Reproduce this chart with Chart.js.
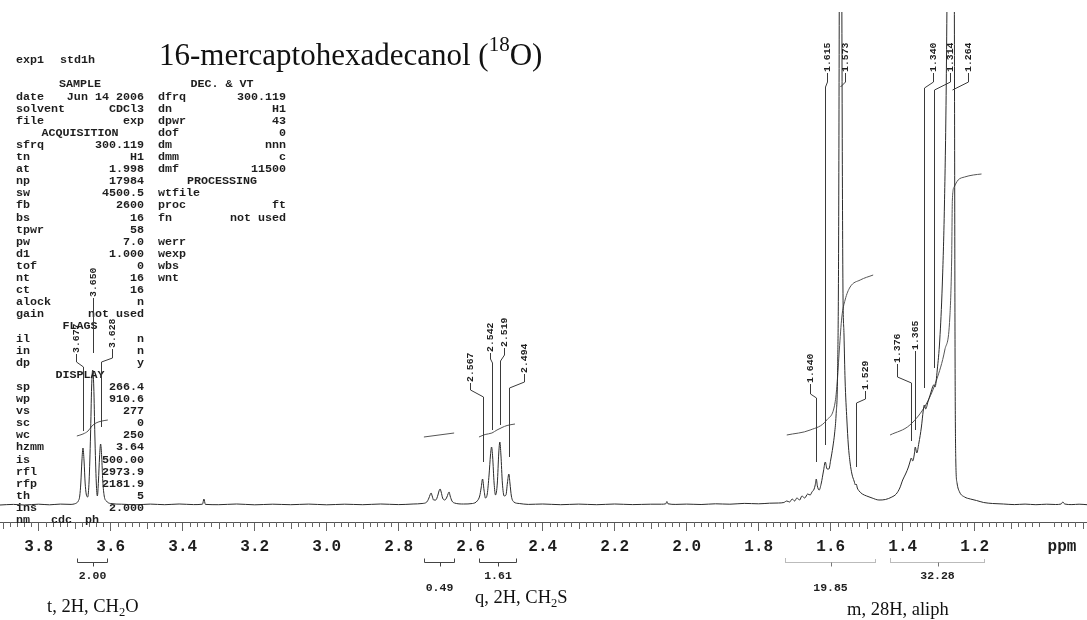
<!DOCTYPE html>
<html>
<head>
<meta charset="utf-8">
<script src="https://cdn.jsdelivr.net/npm/chart.js@4.4.1/dist/chart.umd.min.js"></script>
<style>
  html, body { margin: 0; padding: 0; background: #fff; }
  #wrap { position: relative; width: 1087px; height: 620px; }
</style>
</head>
<body>
<div id="wrap"><canvas id="nmr"></canvas></div>
<script>
// ---- chemical shift axis ----
const shiftMax = 3.9075;   // left edge (ppm)
const shiftMin = 0.888;    // right edge (ppm)
const majorTicks = [3.8, 3.6, 3.4, 3.2, 3.0, 2.8, 2.6, 2.4, 2.2, 2.0, 1.8, 1.6, 1.4, 1.2];
const tickLabels = ['3.8', '3.6', '3.4', '3.2', '3.0', '2.8', '2.6', '2.4', '2.2', '2.0', '1.8', '1.6', '1.4', '1.2'];

// ---- 1H spectrum trace (ppm, intensity) ----
const spectrumShift = [
  3.9075, 3.87, 3.84, 3.80, 3.77, 3.74, 3.71, 3.70, 3.695, 3.690, 3.686, 3.683, 3.680, 3.677, 3.674, 3.671,
  3.668, 3.664, 3.660, 3.656, 3.653, 3.650, 3.647, 3.644, 3.640, 3.637, 3.634, 3.631, 3.628, 3.625, 3.622,
  3.618, 3.612, 3.60, 3.57, 3.53, 3.49, 3.45, 3.41, 3.37, 3.345, 3.341, 3.337, 3.30, 3.25, 3.20, 3.15, 3.10,
  3.05, 3.00, 2.95, 2.90, 2.85, 2.80, 2.76, 2.735, 2.722, 2.716, 2.713, 2.710, 2.707, 2.703, 2.697, 2.691,
  2.688, 2.685, 2.682, 2.678, 2.672, 2.666, 2.663, 2.660, 2.657, 2.652, 2.645, 2.62, 2.595, 2.582, 2.575,
  2.571, 2.567, 2.563, 2.559, 2.554, 2.549, 2.545, 2.542, 2.539, 2.535, 2.531, 2.526, 2.522, 2.519, 2.516,
  2.512, 2.507, 2.502, 2.498, 2.494, 2.491, 2.487, 2.480, 2.465, 2.44, 2.40, 2.35, 2.30, 2.25, 2.20, 2.15,
  2.10, 2.07, 2.058, 2.055, 2.052, 2.03, 2.00, 1.96, 1.92, 1.88, 1.84, 1.80, 1.77, 1.745, 1.73, 1.722,
  1.714, 1.707, 1.700, 1.694, 1.686, 1.680, 1.672, 1.664, 1.657, 1.652, 1.646, 1.643, 1.640, 1.637, 1.632,
  1.626, 1.620, 1.615, 1.610, 1.605, 1.600, 1.594, 1.589, 1.585, 1.581, 1.578, 1.575, 1.573, 1.571, 1.568,
  1.566, 1.563, 1.560, 1.555, 1.551, 1.546, 1.541, 1.535, 1.531, 1.529, 1.526, 1.521, 1.512, 1.500, 1.485,
  1.466, 1.448, 1.430, 1.418, 1.408, 1.400, 1.392, 1.384, 1.379, 1.376, 1.372, 1.368, 1.365, 1.361, 1.355,
  1.348, 1.343, 1.340, 1.336, 1.330, 1.322, 1.317, 1.314, 1.310, 1.304, 1.297, 1.290, 1.284, 1.279, 1.274,
  1.269, 1.264, 1.260, 1.2565, 1.2545, 1.2525, 1.249, 1.242, 1.228, 1.212, 1.195, 1.175, 1.15, 1.12, 1.09,
  1.06, 1.03, 1.00, 0.975, 0.960, 0.955, 0.950, 0.93, 0.91, 0.888
];
const spectrumSignal = [
  0, 0.6, 0, 0.8, 0.2, 0.9, 0.6, 1.2, 2, 4, 9, 22, 44, 57, 44, 22,
  11, 8, 24, 70, 118, 135, 118, 70, 22, 9, 24, 48, 61, 48, 24,
  9, 4, 1.5, 0.8, 0.2, 0.9, 0.3, 1, 0.4, 0.8, 6, 0.6, 0.3, 1, 0.2, 0.8, 0.3,
  0.9, 0.2, 0.8, 0.3, 1, 0.4, 1, 1.5, 3, 7, 10, 12, 9, 5, 5, 10,
  14, 16, 13, 7, 5, 8, 11, 13, 9, 4, 2, 1, 1.5, 4, 9,
  17, 26, 15, 7, 11, 30, 50, 58, 48, 22, 10, 22, 52, 63, 50,
  22, 9, 10, 22, 31, 22, 9, 3, 1.5, 0.6, 1, 0.3, 0.9, 0.3, 1, 0.4,
  0.8, 0.8, 1.2, 3.5, 1.2, 0.6, 0.9, 0.5, 1.2, 0.8, 1.6, 1.2, 1.8, 2, 2.5, 4,
  3, 6, 4, 7, 5, 9, 7, 11, 10, 13, 16, 20, 26, 19, 15,
  22, 34, 43, 36, 36, 45, 58, 72, 90, 130, 260, 700, 1100, 800, 380,
  220, 170, 125, 85, 60, 42, 31, 24, 20, 21, 17, 14, 11, 9, 7,
  5, 5.5, 8, 11, 17, 25, 31, 38, 44, 47, 44, 50, 58, 52, 62,
  78, 94, 100, 96, 103, 112, 118, 120, 118, 135, 165, 220, 300, 420, 650,
  950, 1100, 900, 500, 150, 45, 22, 13, 8, 6, 4.5, 2.5, 1.5, 1, 0.4,
  0.9, 0.3, 0.8, 0.5, 1, 3, 1, 0.4, 0.8, 0.3
];

// ---- integral traces (ppm, integral height) ----
const integral1Shift = [3.694, 3.677, 3.663, 3.652, 3.641, 3.624, 3.608];
const integral1Value = [69, 71, 74, 79, 82, 84, 85];
const integral2Shift = [2.730, 2.688, 2.646];
const integral2Value = [68, 70, 72];
const integral3Shift = [2.577, 2.560, 2.541, 2.527, 2.513, 2.499, 2.477];
const integral3Value = [68, 70.5, 72, 75, 77.5, 79.5, 81];
const integral4Shift = [1.722, 1.657, 1.611, 1.588, 1.582, 1.576, 1.569, 1.560, 1.546, 1.518, 1.482];
const integral4Value = [70, 75, 85, 102, 122, 155, 188, 205, 218, 225, 230];
const integral5Shift = [1.435, 1.380, 1.333, 1.306, 1.283, 1.269, 1.264, 1.262, 1.257, 1.246, 1.228, 1.204, 1.181];
const integral5Value = [70, 80, 102, 125, 155, 188, 245, 305, 318, 325, 328, 330, 331];

// ---- integration regions and their values ----
const regionFrom = [3.694, 2.730, 2.577, 1.727, 1.435];
const regionTo = [3.611, 2.646, 2.474, 1.477, 1.173];
const regionValues = ['2.00', '0.49', '1.61', '19.85', '32.28'];

// ---- picked peaks ----
const peakShifts = [3.677, 3.650, 3.628, 2.567, 2.542, 2.519, 2.494, 1.640, 1.615, 1.573, 1.529, 1.376, 1.365, 1.340, 1.314, 1.264];

// ---- acquisition parameter listing ----
const paramLeft = [
  ['#', 'SAMPLE'], ['date', 'Jun 14 2006'], ['solvent', 'CDCl3'], ['file', 'exp'], ['#', 'ACQUISITION'],
  ['sfrq', '300.119'], ['tn', 'H1'], ['at', '1.998'], ['np', '17984'], ['sw', '4500.5'], ['fb', '2600'],
  ['bs', '16'], ['tpwr', '58'], ['pw', '7.0'], ['d1', '1.000'], ['tof', '0'], ['nt', '16'], ['ct', '16'],
  ['alock', 'n'], ['gain', 'not used'], ['#', 'FLAGS'], ['il', 'n'], ['in', 'n'], ['dp', 'y'],
  ['#', 'DISPLAY'], ['sp', '266.4'], ['wp', '910.6'], ['vs', '277'], ['sc', '0'], ['wc', '250'],
  ['hzmm', '3.64'], ['is', '500.00'], ['rfl', '2973.9'], ['rfp', '2181.9'], ['th', '5'], ['ins', '2.000']
];
const paramRight = [
  ['#', 'DEC. & VT'], ['dfrq', '300.119'], ['dn', 'H1'], ['dpwr', '43'], ['dof', '0'], ['dm', 'nnn'],
  ['dmm', 'c'], ['dmf', '11500'], ['#', 'PROCESSING'], ['wtfile', ''], ['proc', 'ft'], ['fn', 'not used'],
  ['', ''], ['werr', ''], ['wexp', ''], ['wbs', ''], ['wnt', '']
];

// ---- layout of the drawn annotations (pixels) ----
const peakLabelLayout = {
  textX:   [76, 93, 112, 470, 490, 504, 524, 810, 827, 845, 865, 897, 915, 933, 950, 968],
  textEnd: [353, 297, 348, 382, 352, 347, 373, 383, 72, 72, 390, 363, 350, 72, 72, 72],
  bendTop: [362, 300, 358, 390, 359, 355, 382, 394, 82, 82, 399, 377, 358, 82, 82, 82],
  bendLow: [367, 302, 362, 397, 363, 361, 388, 398, 87, 87, 403, 383, 362, 88, 90, 90]
};
const regionLabelY = [576, 588, 576, 588, 576];
const regionDotted = [false, false, false, true, true];

const MONO = '"Liberation Mono", "DejaVu Sans Mono", monospace';
const SERIF = '"Liberation Serif", "DejaVu Serif", serif';
const INK = '#1e1e1e';

function pairs(xs, ys) { return xs.map((x, i) => ({ x: x, y: ys[i] })); }
function signalAt(ppm) {
  let best = 0, d = Infinity;
  spectrumShift.forEach((s, i) => { const e = Math.abs(s - ppm); if (e < d) { d = e; best = i; } });
  return spectrumSignal[best];
}

// printout text, peak labels, integrals and minor ticks
const annotations = {
  id: 'annotations',
  afterDraw(chart) {
    const ctx = chart.ctx;
    const xs = chart.scales.x, ys = chart.scales.y;
    const area = chart.chartArea;
    ctx.save();

    // minor ticks every 0.02 ppm
    ctx.strokeStyle = '#666';
    ctx.lineWidth = 1;
    ctx.beginPath();
    for (let k = 45; k <= 195; k++) {
      const v = k / 50;
      if (v > shiftMax || v < shiftMin) continue;
      if (k % 10 === 0) continue;
      const px = Math.round(xs.getPixelForValue(v)) + 0.5;
      const len = (k % 5 === 0) ? 7 : 5;
      ctx.moveTo(px, area.bottom);
      ctx.lineTo(px, area.bottom + len);
    }
    ctx.stroke();

    // axis unit
    ctx.fillStyle = INK;
    ctx.font = 'bold 16px ' + MONO;
    ctx.textAlign = 'center';
    ctx.textBaseline = 'middle';
    ctx.fillText('ppm', 1062, 547);

    // parameter listing
    ctx.font = 'bold 11.7px ' + MONO;
    ctx.textBaseline = 'middle';
    ctx.textAlign = 'left';
    ctx.fillText('exp1', 16, 60);
    ctx.fillText('std1h', 60, 60);
    const rowY = i => 84.5 + 12.1 * i;
    const drawColumn = (rows, x0, x1) => {
      rows.forEach((r, i) => {
        const y = rowY(i);
        if (r[0] === '#') {
          ctx.textAlign = 'center';
          ctx.fillText(r[1], (x0 + x1) / 2, y);
        } else {
          ctx.textAlign = 'left';
          ctx.fillText(r[0], x0, y);
          ctx.textAlign = 'right';
          ctx.fillText(r[1], x1, y);
        }
      });
    };
    drawColumn(paramLeft, 16, 144);
    drawColumn(paramRight, 158, 286);
    ctx.textAlign = 'left';
    ctx.fillText('nm', 16, rowY(36));
    ctx.fillText('cdc', 51, rowY(36));
    ctx.fillText('ph', 85, rowY(36));

    // title
    ctx.fillStyle = '#111';
    ctx.textBaseline = 'alphabetic';
    ctx.font = '31px ' + SERIF;
    let tx = 159;
    const t1 = '16-mercaptohexadecanol (';
    ctx.fillText(t1, tx, 65);
    tx += ctx.measureText(t1).width;
    ctx.font = '21px ' + SERIF;
    ctx.fillText('18', tx, 51);
    tx += ctx.measureText('18').width;
    ctx.font = '31px ' + SERIF;
    ctx.fillText('O)', tx, 65);

    // peak labels with leaders
    ctx.strokeStyle = '#3a3a3a';
    ctx.lineWidth = 1;
    ctx.fillStyle = INK;
    peakShifts.forEach((p, i) => {
      const px = xs.getPixelForValue(p);
      const lx = peakLabelLayout.textX[i];
      const yEnd = peakLabelLayout.textEnd[i];
      const b1 = peakLabelLayout.bendTop[i];
      const b2 = peakLabelLayout.bendLow[i];
      const top = Math.max(ys.getPixelForValue(signalAt(p)), area.top);
      const stop = Math.max(b2, top - 17);
      ctx.beginPath();
      ctx.moveTo(lx + 0.5, yEnd + 1);
      ctx.lineTo(lx + 0.5, b1);
      ctx.lineTo(Math.round(px) + 0.5, b2);
      ctx.lineTo(Math.round(px) + 0.5, stop);
      ctx.stroke();
      ctx.save();
      ctx.translate(lx + 0.5, yEnd);
      ctx.rotate(-Math.PI / 2);
      ctx.font = 'bold 9.8px ' + MONO;
      ctx.textAlign = 'left';
      ctx.textBaseline = 'middle';
      ctx.fillText(p.toFixed(3), 0, 0);
      ctx.restore();
    });

    // integration brackets and values
    regionFrom.forEach((a, i) => {
      const x0 = Math.round(xs.getPixelForValue(a)) + 0.5;
      const x1 = Math.round(xs.getPixelForValue(regionTo[i])) + 0.5;
      const y = 562.5;
      ctx.strokeStyle = regionDotted[i] ? '#777' : '#444';
      ctx.setLineDash(regionDotted[i] ? [1, 1] : []);
      ctx.beginPath();
      ctx.moveTo(x0, y - 4); ctx.lineTo(x0, y); ctx.lineTo(x1, y); ctx.lineTo(x1, y - 4);
      ctx.stroke();
      ctx.setLineDash([]);
      const xm = Math.round((x0 + x1) / 2) + 0.5;
      ctx.beginPath();
      ctx.moveTo(xm, y); ctx.lineTo(xm, y + 4);
      ctx.stroke();
      ctx.font = 'bold 11.5px ' + MONO;
      ctx.textAlign = 'center';
      ctx.textBaseline = 'middle';
      ctx.fillText(regionValues[i], (x0 + x1) / 2, regionLabelY[i]);
    });

    // multiplet assignments
    const assign = (parts, x, y) => {
      ctx.fillStyle = '#111';
      ctx.textAlign = 'left';
      ctx.textBaseline = 'alphabetic';
      parts.forEach(pt => {
        const sub = pt[1];
        ctx.font = (sub ? '12.5px ' : '18.5px ') + SERIF;
        ctx.fillText(pt[0], x, sub ? y + 4 : y);
        x += ctx.measureText(pt[0]).width;
      });
    };
    assign([['t, 2H, CH', false], ['2', true], ['O', false]], 47, 612);
    assign([['q, 2H, CH', false], ['2', true], ['S', false]], 475, 603);
    assign([['m, 28H, aliph', false]], 847, 615);

    ctx.restore();
  }
};

const traceStyle = (color, width) => ({
  borderColor: color, borderWidth: width, pointRadius: 0, fill: false,
  cubicInterpolationMode: 'monotone', clip: 0
});

new Chart(document.getElementById('nmr'), {
  type: 'line',
  data: {
    datasets: [
      Object.assign({ label: 'spectrum', data: pairs(spectrumShift, spectrumSignal) }, traceStyle('#2b2b2b', 1)),
      Object.assign({ label: 'int1', data: pairs(integral1Shift, integral1Value) }, traceStyle('#555', 1)),
      Object.assign({ label: 'int2', data: pairs(integral2Shift, integral2Value) }, traceStyle('#555', 1)),
      Object.assign({ label: 'int3', data: pairs(integral3Shift, integral3Value) }, traceStyle('#555', 1)),
      Object.assign({ label: 'int4', data: pairs(integral4Shift, integral4Value) }, traceStyle('#555', 1)),
      Object.assign({ label: 'int5', data: pairs(integral5Shift, integral5Value) }, traceStyle('#555', 1))
    ]
  },
  options: {
    responsive: true,
    maintainAspectRatio: false,
    devicePixelRatio: 1,
    animation: false,
    events: [],
    layout: { padding: { top: 12, left: 0, right: 0, bottom: 0 } },
    plugins: { legend: { display: false }, tooltip: { enabled: false }, title: { display: false } },
    scales: {
      x: {
        type: 'linear',
        reverse: true,
        min: shiftMin,
        max: shiftMax,
        afterBuildTicks: s => { s.ticks = majorTicks.map(v => ({ value: v })); },
        afterFit: s => { s.height = 98; },
        ticks: {
          autoSkip: false,
          maxRotation: 0,
          padding: 6,
          color: INK,
          font: { family: MONO, size: 16, weight: 'bold' },
          callback: (v) => tickLabels[majorTicks.findIndex(t => Math.abs(t - v) < 1e-6)]
        },
        grid: { drawOnChartArea: false, drawTicks: true, tickLength: 9, color: '#666', lineWidth: 1 },
        border: { display: true, color: '#555', width: 1 }
      },
      y: { display: false, min: -17, max: 493 }
    }
  },
  plugins: [annotations]
});
</script>
</body>
</html>
